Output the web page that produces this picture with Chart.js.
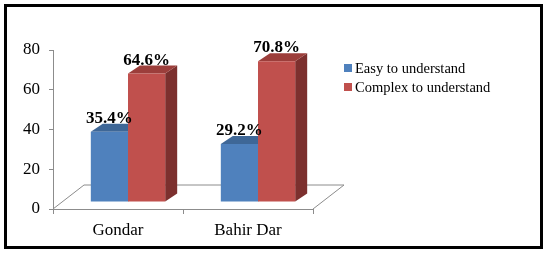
<!doctype html>
<html lang="en">
  <head>
    <meta charset="utf-8">
    <title>Easy vs complex to understand</title>
    <script src="https://cdn.jsdelivr.net/npm/chart.js@4.4.0/dist/chart.umd.min.js"></script>
    <style>
      body { margin: 0; background: #fff; }
    </style>
  </head>
  <body>
    <canvas id="chart" width="550" height="258"></canvas>
    <script>
      const categories = ['Gondar', 'Bahir Dar'];
      const seriesNames = ['Easy to understand', 'Complex to understand'];
      const easyValues = [35.4, 29.2];
      const complexValues = [64.6, 70.8];
      const yTicks = [0, 20, 40, 60, 80];

      const serif = '"Liberation Serif", "Times New Roman", serif';
      const fronts = ['#4F81BD', '#C0504D'];
      const tops = ['#3E6797', '#9C3E3B'];
      const sides = ['#36597F', '#7C302E'];
      const axisGray = '#8C8C8C';
      // 3d depth of bars and floor
      const barDx = 12, barDy = -8;
      const shiftX = 10, shiftY = -7;
      const floorDx = 31, floorDy = -24;

      const frame3d = {
        id: 'frame3d',
        beforeDraw(chart) {
          const ctx = chart.ctx;
          ctx.save();
          ctx.fillStyle = '#fff';
          ctx.fillRect(0, 0, chart.width, chart.height);
          ctx.strokeStyle = '#000';
          ctx.lineWidth = 3;
          ctx.strokeRect(5.5, 5.5, 536, 242);
          ctx.restore();
        },
        beforeDatasetsDraw(chart) {
          const ctx = chart.ctx;
          const a = chart.chartArea;
          const y0 = chart.scales.y.getPixelForValue(0);
          // floor
          ctx.save();
          ctx.strokeStyle = axisGray;
          ctx.lineWidth = 1;
          ctx.beginPath();
          ctx.moveTo(a.left, y0);
          ctx.lineTo(a.left + floorDx, y0 + floorDy);
          ctx.lineTo(a.right + floorDx, y0 + floorDy);
          ctx.lineTo(a.right, y0);
          ctx.stroke();
          ctx.restore();

          ctx.save();
          ctx.translate(shiftX, shiftY);
          chart.data.datasets.forEach((ds, di) => {
            chart.getDatasetMeta(di).data.forEach(bar => {
              const l = bar.x - bar.width / 2, r = bar.x + bar.width / 2;
              ctx.fillStyle = sides[di];
              ctx.beginPath();
              ctx.moveTo(r, bar.y);
              ctx.lineTo(r + barDx, bar.y + barDy);
              ctx.lineTo(r + barDx, bar.base + barDy);
              ctx.lineTo(r, bar.base);
              ctx.closePath();
              ctx.fill();
              ctx.fillStyle = tops[di];
              ctx.beginPath();
              ctx.moveTo(l, bar.y);
              ctx.lineTo(l + barDx, bar.y + barDy);
              ctx.lineTo(r + barDx, bar.y + barDy);
              ctx.lineTo(r, bar.y);
              ctx.closePath();
              ctx.fill();
            });
          });
        },
        afterDatasetsDraw(chart) {
          const ctx = chart.ctx;
          ctx.fillStyle = '#000';
          ctx.font = 'bold 17px ' + serif;
          ctx.textAlign = 'center';
          ctx.textBaseline = 'alphabetic';
          chart.data.datasets.forEach((ds, di) => {
            chart.getDatasetMeta(di).data.forEach((bar, i) => {
              ctx.fillText(ds.data[i].toFixed(1) + '%', bar.x, bar.y - 9);
            });
          });
          ctx.restore();
        },
        afterDraw(chart) {
          const ctx = chart.ctx;
          ctx.save();
          ctx.font = '14.5px ' + serif;
          ctx.textBaseline = 'middle';
          ctx.textAlign = 'left';
          seriesNames.forEach((name, i) => {
            const y = 68 + i * 19;
            ctx.fillStyle = fronts[i];
            ctx.fillRect(344, y - 4, 8, 8);
            ctx.fillStyle = '#000';
            ctx.fillText(name, 355, y + 1);
          });
          ctx.restore();
        }
      };

      const ctx = document.getElementById('chart').getContext('2d');
      const myChart = new Chart(ctx, {
        type: 'bar',
        data: {
          labels: categories,
          datasets: [
            { label: seriesNames[0], data: easyValues, backgroundColor: fronts[0] },
            { label: seriesNames[1], data: complexValues, backgroundColor: fronts[1] }
          ]
        },
        options: {
          responsive: false,
          animation: false,
          events: [],
          layout: { padding: { left: 0, right: 237, top: 50, bottom: 0 } },
          datasets: {
            bar: { barPercentage: 1, categoryPercentage: 0.572, borderWidth: 0, clip: false }
          },
          plugins: {
            legend: { display: false },
            tooltip: { enabled: false }
          },
          scales: {
            x: {
              afterFit: s => { s.height = 49; },
              grid: { drawOnChartArea: false, tickLength: 5, color: axisGray, offset: true },
              border: { color: axisGray },
              ticks: { color: '#000', font: { family: serif, size: 17 }, padding: 6 }
            },
            y: {
              min: 0,
              max: 80,
              afterFit: s => { s.width = 53; },
              afterBuildTicks: s => { s.ticks = yTicks.map(v => ({ value: v })); },
              grid: { drawOnChartArea: false, tickLength: 4, color: axisGray },
              border: { color: axisGray },
              ticks: { color: '#000', font: { family: serif, size: 17 }, padding: 9 }
            }
          }
        },
        plugins: [frame3d]
      });
    </script>
  </body>
</html>
